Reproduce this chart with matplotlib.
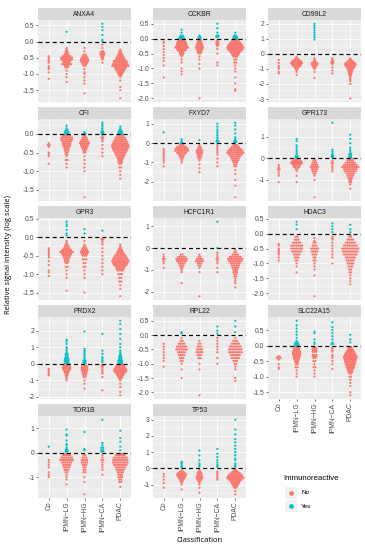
import matplotlib
matplotlib.use("Agg")
import matplotlib.pyplot as plt
from matplotlib.ticker import MultipleLocator, FuncFormatter

GENES = ["ANXA4", "CCKBR", "CD99L2", "CFI", "FXYD7", "GPR173", "GPR3",
         "HCFC1R1", "HDAC3", "PRDX2", "RPL22", "SLC22A15", "TOR1B", "TP53"]
CLASSES = ["Co", "IPMN\u2212LG", "IPMN\u2212HG", "IPMN\u2212CA", "PDAC"]
TICK_STEP = [0.5, 0.5, 1, 0.5, 1, 1, 0.5, 1, 0.5, 1, 0.5, 0.5, 1, 1]

# values per class (Co, LG, HG, CA, PDAC); "v:n" means n samples at value v
ANXA4_no = [
    "-0.45 -0.5 -0.55 -0.6 -0.65 -0.75 -0.8 -0.85 -0.95 -1.15",
    "-0.2 -0.25 -0.3:2 -0.35:2 -0.4:3 -0.45:5 -0.5:7 -0.55:7 -0.6:5 -0.65:4 -0.7:6 -0.75:3 -0.8:2 -0.9 -1.0 -1.1 -1.25",
    "-0.2 -0.3 -0.4:2 -0.45:3 -0.5:4 -0.55:5 -0.6:5 -0.65:4 -0.7:3 -0.75:2 -0.85 -0.95 -1.0 -1.1 -1.2 -1.3 -1.6",
    "-0.1 -0.2 -0.3:2 -0.35:3 -0.4:3 -0.45:2 -0.5:2 -0.55 -0.65",
    "-0.25 -0.3:2 -0.35:2 -0.4:3 -0.45:4 -0.5:5 -0.55:6 -0.6:8 -0.65:8 -0.7:9 -0.75:10 -0.8:7 -0.85:6 -0.9:5 -0.95:4 -1.0:3 -1.05:2 -1.1 -1.2 -1.4 -1.5 -1.75"]
ANXA4_yes = ["", "0.3", "", "0.55 0.45 0.35 0.2 0.05 0.0", ""]

CCKBR_no = [
    "-0.1 -0.15 -0.25 -0.35 -0.45 -0.55 -0.65 -0.75 -0.9 -1.3",
    "-0.05:4 -0.1:5 -0.15:6 -0.2:6 -0.25:7 -0.3:8 -0.35:6 -0.4:5 -0.45:3 -0.5:3 -0.55:2 -0.6 -0.7 -0.8 -1.0 -1.1 -1.2",
    "-0.05:2 -0.1:3 -0.15:3 -0.2:4 -0.25:4 -0.3:5 -0.35:4 -0.4:3 -0.45:3 -0.5:2 -0.6 -0.7 -0.85 -1.0 -2.0",
    "-0.05 -0.1:2 -0.15:2 -0.2:2 -0.25 -0.35 -0.5 -0.8 -0.9",
    "-0.05:4 -0.1:5 -0.15:7 -0.2:8 -0.25:9 -0.3:10 -0.35:9 -0.4:8 -0.45:6 -0.5:5 -0.55:4 -0.6:3 -0.7:2 -0.8:2 -0.9 -1.0 -1.1 -1.3 -1.5 -1.7 -1.75"]
CCKBR_yes = ["", "0.3 0.2 0.1:2 0.05:3 0.0:4", "0.1 0.05:2 0.0:2",
             "0.5 0.35 0.2 0.1:2 0.05:2", "0.2 0.1:2 0.05:3 0.0:3"]

CD99L2_no = [
    "-0.4 -0.6 -0.8 -0.9 -1.0 -1.2 -1.3",
    "-0.2 -0.3:2 -0.4:4 -0.5:6 -0.6:7 -0.7:6 -0.8:5 -0.9:3 -1.0:2 -1.1 -1.2 -1.4",
    "-0.3 -0.4 -0.5:2 -0.6:4 -0.7:4 -0.8:3 -0.9:2 -1.0 -1.2 -1.6",
    "-0.3 -0.4 -0.5:2 -0.6:2 -0.7 -0.9 -1.1 -1.3",
    "-0.3 -0.4:2 -0.5:4 -0.6:6 -0.7:7 -0.8:6 -0.9:5 -1.0:4 -1.1:3 -1.2:3 -1.3:2 -1.4:2 -1.5 -1.6 -1.7 -1.8 -2.0 -2.95"]
CD99L2_yes = ["", "", "2.0 1.85 1.7 1.55 1.4 1.25 1.1 0.95", "", ""]

CFI_no = [
    "-0.25 -0.3:2 -0.35 -0.5 -0.55 -0.6 -0.8",
    "-0.05:5 -0.1:7 -0.15:7 -0.2:6 -0.25:5 -0.3:5 -0.35:4 -0.4:3 -0.45:3 -0.5:2 -0.55:2 -0.6 -0.7:2 -0.8 -0.9",
    "-0.05:2 -0.1:3 -0.15:4 -0.2:5 -0.25:6 -0.3:5 -0.35:4 -0.4:3 -0.45:2 -0.5:2 -0.6 -0.7 -0.8 -0.9 -1.0 -1.7",
    "-0.05 -0.1:2 -0.15 -0.2 -0.3 -0.4 -0.5 -0.6",
    "-0.05:4 -0.1:6 -0.15:7 -0.2:8 -0.25:9 -0.3:10 -0.35:10 -0.4:9 -0.45:8 -0.5:7 -0.55:6 -0.6:5 -0.65:4 -0.7:3 -0.75:3 -0.8:2 -0.9:2 -1.0 -1.1 -1.2"]
CFI_yes = ["", "0.22 0.15 0.1:2 0.05:3 0.0:3", "0.05 0.0:2",
           "0.3 0.25 0.2 0.15 0.1 0.05:2 0.0:2", "0.2 0.15 0.1:2 0.05:3 0.0:3"]

FXYD7_no = [
    "-0.3 -0.4 -0.5 -0.6 -0.7 -0.8 -0.9 -1.0 -1.2",
    "-0.1:3 -0.2:6 -0.3:8 -0.4:8 -0.5:6 -0.6:4 -0.7:3 -0.8:2 -0.9 -1.0",
    "-0.1 -0.2:2 -0.3:3 -0.4:4 -0.5:4 -0.6:3 -0.7:3 -0.8:2 -0.9 -1.1 -1.3 -1.5",
    "-0.1 -0.2 -0.3 -0.4 -0.5 -0.6 -0.8 -1.0 -1.2",
    "-0.1:3 -0.2:5 -0.3:7 -0.4:9 -0.5:10 -0.6:8 -0.7:6 -0.8:5 -0.9:4 -1.0:3 -1.1:2 -1.2:2 -1.4 -1.6 -1.9 -2.2 -2.8"]
FXYD7_yes = ["0.55", "0.2 0.1 0.0:2", "0.15",
             "1.0 0.85 0.7 0.6 0.5 0.4 0.3 0.2 0.1:2 0.0",
             "1.05 0.9 0.7 0.5 0.3 0.2 0.1:2 0.05:2"]

GPR173_no = [
    "-0.3 -0.4 -0.5:2 -0.6 -0.7 -0.8 -1.1",
    "-0.05:3 -0.1:5 -0.15:6 -0.2:7 -0.25:6 -0.3:5 -0.4:4 -0.5:2 -0.6 -0.8 -1.1",
    "-0.05 -0.1:2 -0.2:3 -0.3:4 -0.4:5 -0.5:4 -0.6:3 -0.7:2 -0.8 -1.0 -1.8",
    "-0.1 -0.2:2 -0.3 -0.4 -0.5 -0.6",
    "-0.05:3 -0.1:4 -0.2:6 -0.3:8 -0.4:10 -0.5:8 -0.6:7 -0.7:5 -0.8:4 -0.9:3 -1.0:2 -1.1:2 -1.2 -1.4"]
GPR173_yes = ["", "0.9 0.8 0.6 0.5 0.4 0.3 0.2 0.1:2 0.05:2", "",
              "1.65 0.4 0.3 0.2 0.15 0.1:2 0.05",
              "1.1 0.9 0.7 0.5 0.4 0.3 0.2:2 0.1:2 0.05:2"]

GPR3_no = [
    "-0.3 -0.35 -0.4 -0.45 -0.5 -0.55 -0.65 -0.75 -0.9 -0.95 -1.05",
    "-0.1 -0.15 -0.2:2 -0.25:3 -0.3:4 -0.35:6 -0.4:8 -0.45:6 -0.5:5 -0.55:4 -0.6:3 -0.65:3 -0.7:2 -0.8:2 -0.9 -1.0 -1.1 -1.45",
    "-0.1 -0.2 -0.25:2 -0.3:3 -0.35:4 -0.4:5 -0.45:4 -0.5:3 -0.6:3 -0.7:2 -0.8:2 -0.9 -1.0 -1.1 -1.5",
    "-0.05:2 -0.1 -0.15 -0.2 -0.3 -0.4 -0.5 -0.6 -0.7 -0.8 -0.9 -1.0",
    "-0.2 -0.25 -0.3:2 -0.35:3 -0.4:4 -0.45:5 -0.5:7 -0.55:8 -0.6:9 -0.65:10 -0.7:9 -0.75:8 -0.8:6 -0.85:5 -0.9:4 -1.0:3 -1.1:2 -1.2:2 -1.3 -1.4 -1.6"]
GPR3_yes = ["", "0.42 0.35 0.3 0.2 0.1 0.05", "0.22 0.1", "0.18", ""]

HCFC1R1_no = [
    "-0.3 -0.4 -0.5:2 -0.6 -0.7 -0.9",
    "-0.3:2 -0.4:5 -0.5:7 -0.6:6 -0.7:4 -0.8:3 -0.9:2 -1.0 -1.1 -1.6",
    "-0.3 -0.4:2 -0.5:4 -0.6:5 -0.7:3 -0.8:2 -0.9 -1.1 -2.2",
    "-0.2 -0.3 -0.4 -0.5:2 -0.6 -0.7 -0.9 -1.1",
    "-0.1 -0.2:2 -0.3:4 -0.4:7 -0.5:9 -0.6:8 -0.7:6 -0.8:5 -0.9:4 -1.0:3 -1.1:3 -1.2:2 -1.3:2 -1.4 -1.5 -1.6 -1.8"]
HCFC1R1_yes = ["", "", "", "1.2 0.0", ""]

HDAC3_no = [
    "-0.35 -0.4 -0.5 -0.55 -0.6 -0.65 -0.7 -0.8 -0.9",
    "-0.1:2 -0.2:3 -0.3:5 -0.4:7 -0.5:7 -0.6:6 -0.7:4 -0.8:3 -0.9:2 -1.0 -1.1 -1.3",
    "-0.15 -0.25 -0.3:2 -0.4:3 -0.5:5 -0.6:4 -0.7:3 -0.8:2 -0.9:2 -1.0 -1.1 -1.2 -1.4 -2.1",
    "-0.1 -0.15 -0.2 -0.3 -0.4 -0.5 -0.6 -0.7 -0.8 -1.0",
    "-0.05 -0.1:2 -0.2:4 -0.3:6 -0.4:8 -0.5:10 -0.6:9 -0.7:8 -0.8:6 -0.9:5 -1.0:4 -1.1:3 -1.2:2 -1.3:2 -1.4 -1.5 -1.6 -1.7"]
HDAC3_yes = ["", "0.4 0.3 0.15", "", "0.35 0.25 0.15 0.05", "0.3 0.15 0.05"]

PRDX2_no = [
    "-0.3 -0.4 -0.5 -0.6 -0.7",
    "-0.05:3 -0.1:4 -0.2:5 -0.3:5 -0.4:4 -0.5:3 -0.6:2 -0.7:2 -0.8 -0.9 -1.0",
    "-0.1:3 -0.2:4 -0.3:4 -0.4:4 -0.5:3 -0.6:3 -0.7:2 -0.8:2 -1.0 -1.2 -1.5",
    "-0.1:2 -0.2 -0.3 -0.4 -0.5 -0.6 -0.8 -1.6",
    "-0.05:3 -0.1:5 -0.2:6 -0.3:7 -0.4:8 -0.5:7 -0.6:5 -0.7:4 -0.8:3 -0.9:2 -1.0 -1.2 -1.4 -1.7 -1.9"]
PRDX2_yes = ["",
             "1.45 1.35 1.2 1.0 0.9 0.8 0.7 0.6:2 0.5:2 0.4:2 0.3:3 0.2:3 0.1:3 0.05:3",
             "1.95 0.9 0.8 0.7 0.6 0.5 0.4 0.3 0.2:2 0.1:2 0.05:2",
             "1.8 0.8 0.6 0.4 0.3 0.2 0.1",
             "2.6 2.4 2.1 1.8 1.5 1.2 1.0 0.8 0.7 0.6 0.5:2 0.4:2 0.3:2 0.2:3 0.1:3 0.05:3"]

RPL22_no = [
    "-0.3 -0.4 -0.5 -0.6 -0.7 -0.8 -0.9 -1.1",
    "-0.1 -0.2:2 -0.3:4 -0.4:6 -0.5:7 -0.6:5 -0.7:4 -0.8:3 -0.9:2 -1.0 -1.2 -1.5",
    "-0.2 -0.3:2 -0.4:3 -0.5:4 -0.6:4 -0.7:3 -0.8:2 -1.0 -1.2 -2.1",
    "-0.1 -0.2 -0.3 -0.4 -0.5 -0.6 -0.8 -1.0",
    "-0.1 -0.2:3 -0.3:5 -0.4:7 -0.5:8 -0.6:8 -0.7:6 -0.8:5 -0.9:3 -1.0:2 -1.1 -1.2 -1.5 -1.6"]
RPL22_yes = ["", "0.1 0.05", "", "0.3 0.15 0.05", "0.5 0.3 0.1"]

SLC22A15_no = [
    "-0.35:2 -0.4:3 -0.45 -0.6 -0.7 -0.75",
    "-0.05:3 -0.1:4 -0.15:4 -0.2:5 -0.25:5 -0.3:5 -0.35:4 -0.4:4 -0.45:3 -0.5:3 -0.55:2 -0.6:2 -0.7:2 -0.8 -0.9 -1.0",
    "-0.05:2 -0.1:3 -0.15:3 -0.2:3 -0.3:3 -0.35:3 -0.4:2 -0.5:2 -0.6 -0.7:2 -0.8 -0.9 -1.0",
    "-0.05 -0.1 -0.15 -0.2 -0.3 -0.35 -0.4 -0.5 -0.6 -0.75",
    "-0.05:2 -0.1:3 -0.15:4 -0.2:5 -0.25:6 -0.3:7 -0.35:8 -0.4:8 -0.45:7 -0.5:7 -0.55:6 -0.6:6 -0.65:5 -0.7:5 -0.75:4 -0.8:3 -0.85:3 -0.9:2 -1.0:2 -1.1 -1.2 -1.3 -1.5 -1.6"]
SLC22A15_yes = ["", "0.8 0.65 0.55 0.45 0.35 0.25 0.15 0.1:2 0.05:3 0.0:3",
                "0.45 0.4 0.2 0.1 0.05", "0.75 0.6 0.5 0.4 0.3 0.2 0.1 0.05:2",
                "0.35 0.2 0.1"]

TOR1B_no = [
    "-0.3 -0.4 -0.5 -0.6 -0.8 -0.9 -1.0",
    "-0.05:4 -0.1:5 -0.2:7 -0.3:8 -0.4:6 -0.5:5 -0.6:4 -0.7:3 -0.8:2 -0.9 -1.0 -1.1 -1.3",
    "-0.1:2 -0.2:3 -0.3:4 -0.4:4 -0.5:3 -0.6:2 -0.7:2 -0.8:2 -1.0 -1.2 -1.7",
    "-0.1 -0.2 -0.3:2 -0.4 -0.5 -0.6 -0.7 -0.9",
    "-0.05:4 -0.1:6 -0.2:8 -0.3:9 -0.4:9 -0.5:8 -0.6:6 -0.7:5 -0.8:4 -0.9:3 -1.0:3 -1.1:2 -1.2:2 -1.4"]
TOR1B_yes = ["0.25", "0.95 0.75 0.7 0.5 0.35 0.3 0.2 0.15 0.1:2 0.05:2",
             "0.85 0.15 0.1", "1.35 0.4 0.3 0.2:2 0.1:2 0.05:2",
             "0.9 0.6 0.45 0.25 0.1"]

TP53_no = [
    "-0.35 -0.5 -0.7 -0.9 -1.2",
    "-0.1 -0.2:3 -0.3:5 -0.4:6 -0.5:5 -0.6:4 -0.7:3 -0.8:2 -0.9 -1.0 -1.3",
    "-0.1 -0.2:2 -0.3:3 -0.4:3 -0.5:4 -0.6:4 -0.7:3 -0.8:2 -0.9 -1.0 -1.2 -1.5",
    "-0.2 -0.3 -0.4 -0.5 -0.6 -0.7",
    "-0.1:2 -0.2:4 -0.3:6 -0.4:8 -0.5:9 -0.6:10 -0.7:8 -0.8:6 -0.9:5 -1.0:4 -1.1:3 -1.2:2 -1.4 -1.6"]
TP53_yes = ["", "0.4 0.35 0.3 0.2 0.1 0.05", "1.1 0.8 0.5 0.3 0.2 0.1",
            "1.2 0.9 0.7 0.5 0.35 0.2 0.1",
            "3.0 2.4 2.1 1.8 1.6 1.4 1.2 1.0 0.8 0.6 0.5 0.3 0.2 0.1"]

NO_LISTS = [ANXA4_no, CCKBR_no, CD99L2_no, CFI_no, FXYD7_no, GPR173_no, GPR3_no,
            HCFC1R1_no, HDAC3_no, PRDX2_no, RPL22_no, SLC22A15_no, TOR1B_no, TP53_no]
YES_LISTS = [ANXA4_yes, CCKBR_yes, CD99L2_yes, CFI_yes, FXYD7_yes, GPR173_yes, GPR3_yes,
             HCFC1R1_yes, HDAC3_yes, PRDX2_yes, RPL22_yes, SLC22A15_yes, TOR1B_yes, TP53_yes]


def parse(s):
    out = []
    for tok in s.split():
        if ":" in tok:
            v, n = tok.split(":")
            out += [float(v)] * int(n)
        else:
            out.append(float(tok))
    return out


W, H = 365, 550
fig = plt.figure(figsize=(W / 100, H / 100), dpi=100)
fig.patch.set_facecolor("white")


def rect(x, y, w, h):
    return [x / W, 1 - (y + h) / H, w / W, h / H]


RED = "#F8766D"
CYAN = "#00BFC4"
COLX = [38, 153, 268]
PW, PH, SH = 93, 82, 12
ROW_STEP = 99
DX = 0.1
SANS = ["Liberation Sans", "DejaVu Sans"]
TITLE = ["Open Sans", "DejaVu Sans"]
FS = 4.9


def fmt_factory(step):
    def f(v, pos):
        s = f"{v:.1f}" if step < 1 else f"{v:.0f}"
        if s in ("-0.0", "-0"):
            s = s[1:]
        return s
    return FuncFormatter(f)


for k, gene in enumerate(GENES):
    r, c = divmod(k, 3)
    top = 8 + ROW_STEP * r
    sax = fig.add_axes(rect(COLX[c], top, PW, SH))
    sax.set_facecolor("#D9D9D9")
    sax.set_xticks([]); sax.set_yticks([])
    for sp in sax.spines.values():
        sp.set_visible(False)
    sax.text(0.5, 0.48, gene, ha="center", va="center", fontsize=FS,
             color="#1A1A1A", family=SANS, transform=sax.transAxes)

    ax = fig.add_axes(rect(COLX[c], top + SH, PW, PH))
    ax.set_facecolor("#EBEBEB")
    for sp in ax.spines.values():
        sp.set_visible(False)
    no = [parse(s) for s in NO_LISTS[k]]
    yes = [parse(s) for s in YES_LISTS[k]]
    allv = [v for g in no + yes for v in g] + [0.0]
    lo, hi = min(allv), max(allv)
    pad = 0.05 * (hi - lo)
    ax.set_ylim(lo - pad, hi + pad)
    ax.set_xlim(0.4, 5.6)
    step = TICK_STEP[k]
    ax.yaxis.set_major_locator(MultipleLocator(step))
    ax.yaxis.set_minor_locator(MultipleLocator(step / 2))
    ax.yaxis.set_major_formatter(fmt_factory(step))
    ax.set_xticks(range(1, 6))
    ax.grid(which="major", color="white", lw=0.6)
    ax.grid(which="minor", axis="y", color="white", lw=0.3)
    ax.set_axisbelow(True)
    ax.tick_params(axis="both", which="major", length=1.6, width=0.5,
                   color="#333333", labelsize=FS, labelcolor="#4D4D4D", pad=1)
    ax.tick_params(axis="y", which="minor", length=0)
    for lab in ax.get_yticklabels():
        lab.set_family(SANS)
    if k in (11, 12, 13):
        ax.set_xticklabels(CLASSES, rotation=90, family=SANS)
    else:
        ax.tick_params(axis="x", length=0, labelbottom=False)

    ax.axhline(0, color="black", lw=0.85, ls=(0, (3.5, 2.5)), zorder=4)

    for i in range(5):
        groups = {}
        for v in no[i]:
            groups.setdefault(round(v, 3), []).append(RED)
        for v in yes[i]:
            groups.setdefault(round(v, 3), []).append(CYAN)
        xs, ys, cs = [], [], []
        for v, cols in groups.items():
            n = len(cols)
            for j, col in enumerate(cols):
                xs.append(i + 1 + (j - (n - 1) / 2) * DX)
                ys.append(v)
                cs.append(col)
        ax.scatter(xs, ys, s=2.6, c=cs, linewidths=0, zorder=3)

# axis titles
fig.text(9 / W, 1 - 255 / H, "Relative signal intensity (log scale)", rotation=90,
         ha="center", va="center", fontsize=5.5, family=TITLE, color="black")
fig.text(200 / W, 1 - 541 / H, "Classification", ha="center", va="center",
         fontsize=5.5, family=TITLE, color="black")

# legend
lax = fig.add_axes(rect(270, 468, 90, 48))
lax.set_xlim(0, 90); lax.set_ylim(48, 0)
lax.axis("off")
lax.text(13, 11, "Immunoreactive", fontsize=5.6, family=SANS, va="center",
         ha="left", color="black")
for yy, col, lab in [(25, RED, "No"), (38, CYAN, "Yes")]:
    lax.add_patch(plt.Rectangle((15, yy - 6), 12, 12, color="#F2F2F2", lw=0))
    lax.plot([21], [yy], "o", ms=3.4, color=col, mec="none")
    lax.text(31, yy, lab, fontsize=4.6, family=SANS, va="center", ha="left",
             color="black")

fig.savefig("out.png", dpi=100)
